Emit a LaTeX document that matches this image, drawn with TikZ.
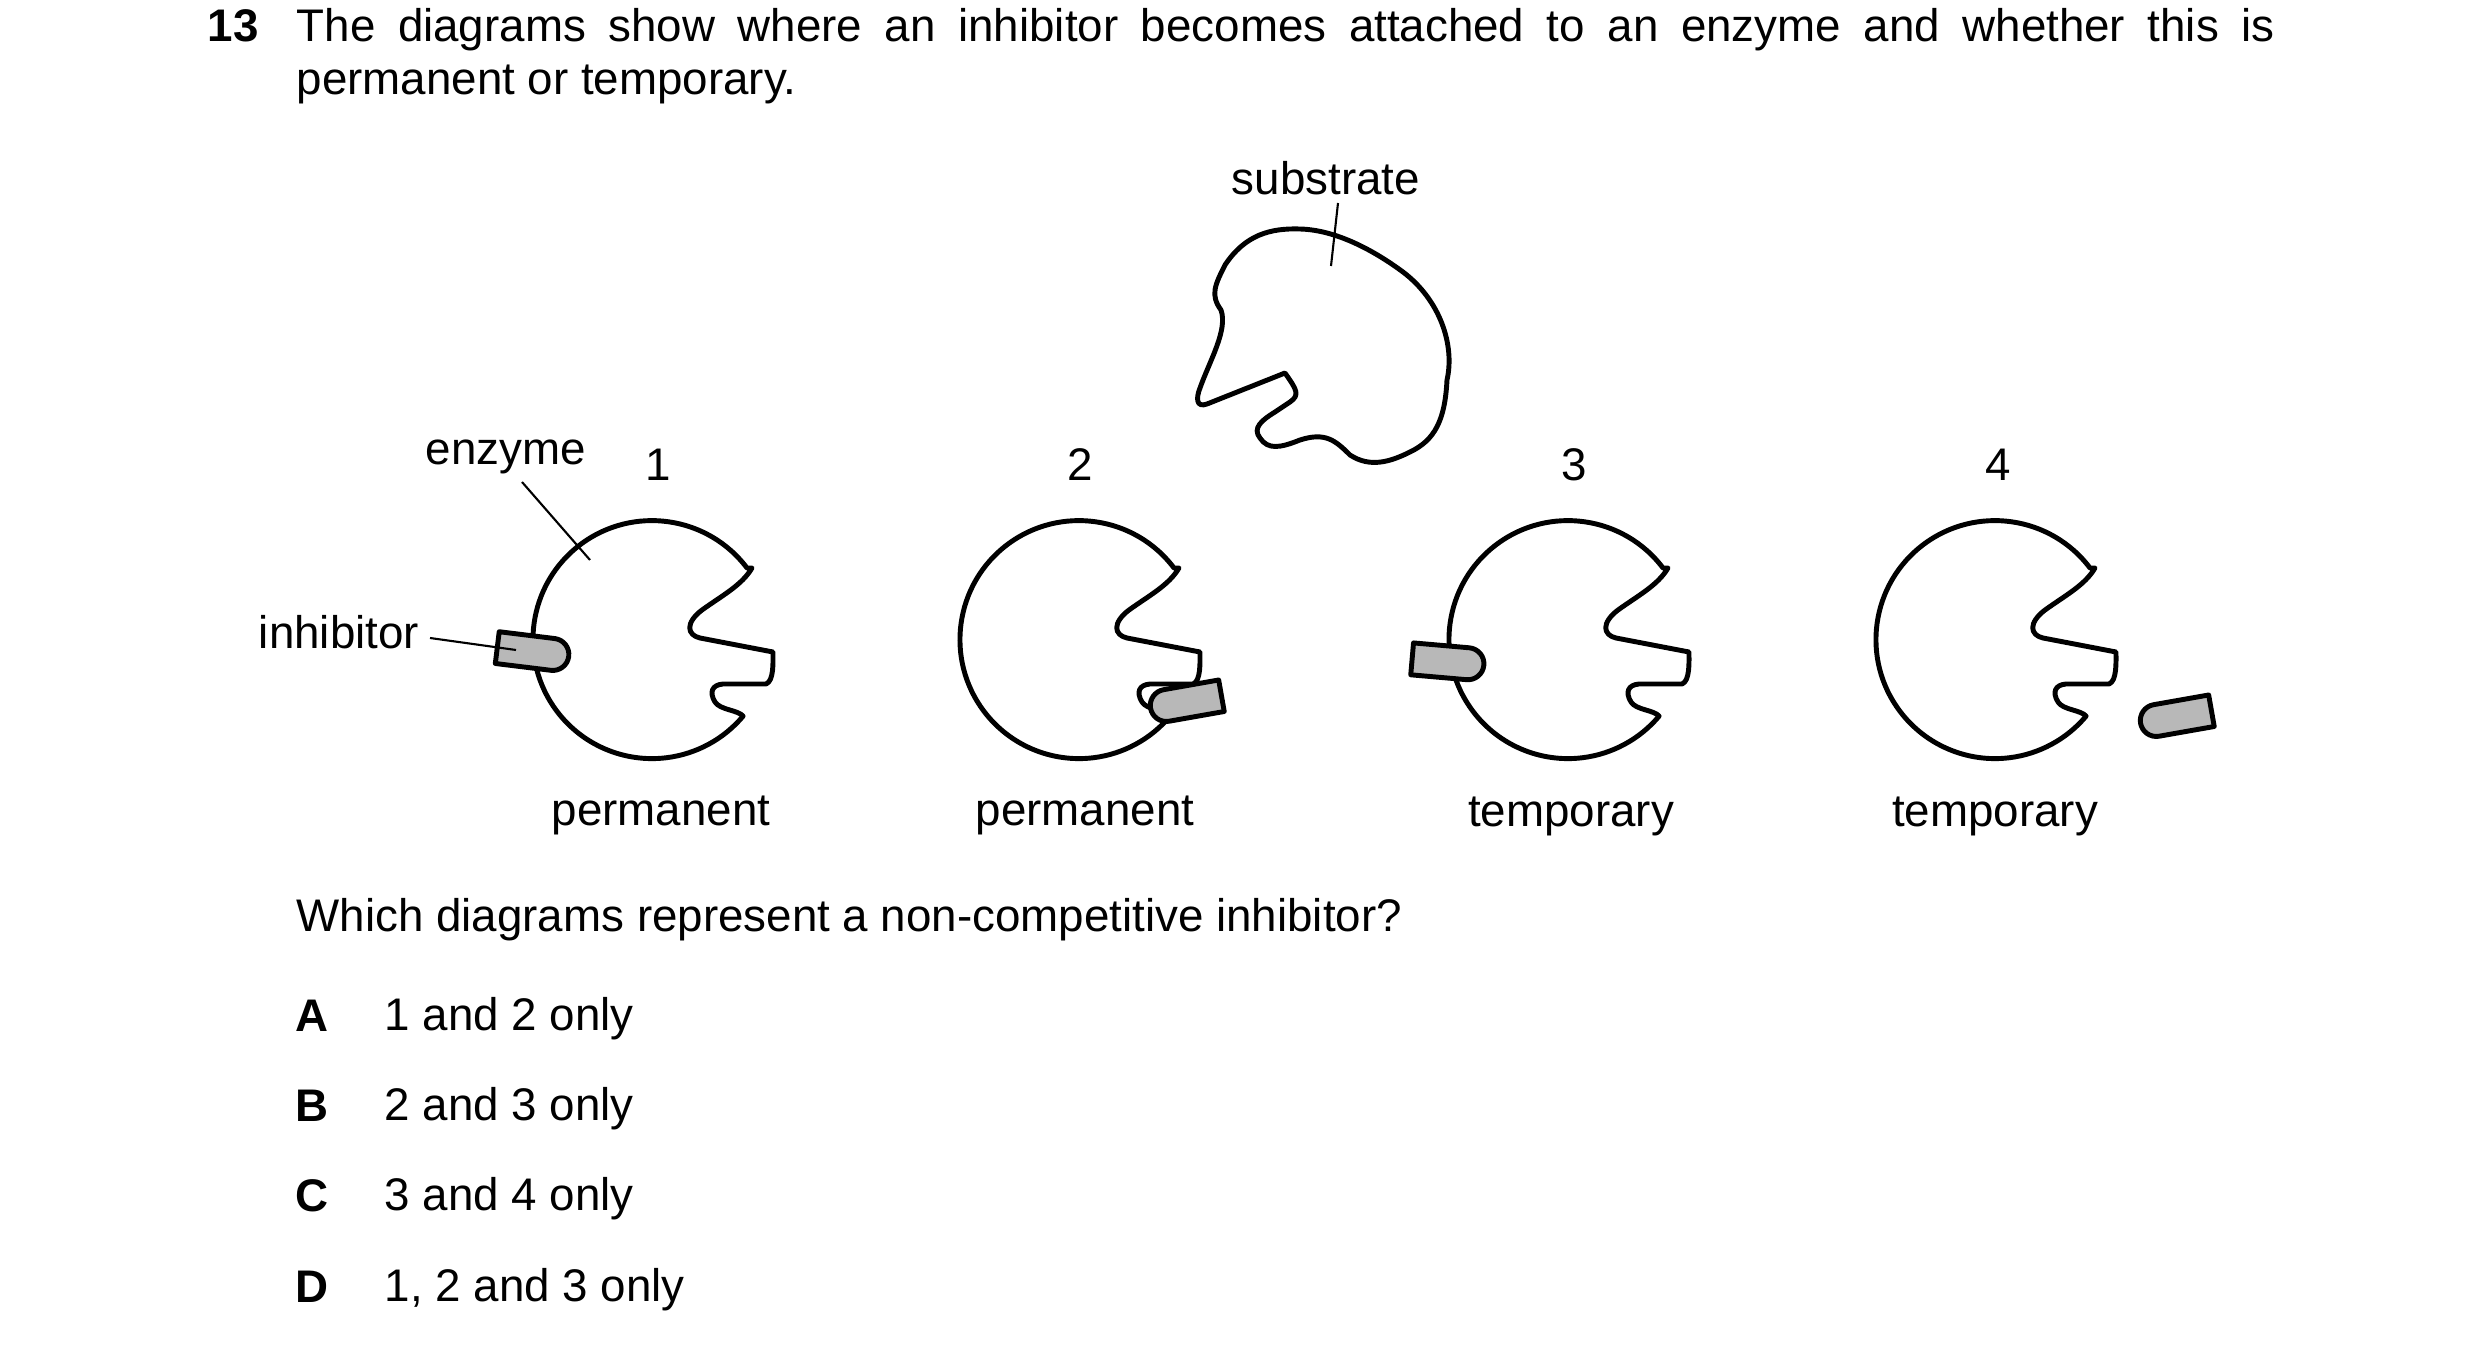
\documentclass[tikz,border=0pt]{standalone}
\usepackage{fontspec}
\setmainfont{Liberation Sans}
\begin{document}
\begin{tikzpicture}[x=0.01cm,y=-0.01cm,
  txt/.style={font=\fontsize{13pt}{15pt}\selectfont, inner sep=0pt},
  ol/.style={line width=1.4pt, line join=round},
  inh/.style={ol, fill=black!28},
  lead/.style={line width=0.6pt},
  pics/enzyme/.style={code={
    \draw[ol,fill=white] (95,-72) arc[start angle=-37, end angle=-320, radius=119]
      .. controls (86,70) and (68,70) .. (63,62) .. controls (57,52) and (60,45) .. (71,44)
      -- (114,44) .. controls (122,41) and (121,22) .. (121,12) -- (48,-2)
      .. controls (35,-5) and (33,-17) .. (50,-30) .. controls (71,-45) and (90,-55) .. (100,-72) -- cycle;}},
  pics/capR/.style={code={
    \draw[inh] (-36,-16) -- (20,-16) arc[start angle=-90, end angle=90, radius=16] -- (-36,16) -- cycle;}},
  pics/capL/.style={code={
    \draw[inh] (36,-16) -- (-20,-16) arc[start angle=270, end angle=90, radius=16] -- (36,16) -- cycle;}}
]
\useasboundingbox (0,0) rectangle (2480,1349);
\node[txt,font=\fontsize{13pt}{15pt}\selectfont\bfseries,anchor=base west] (num) at (207,42) {13};
\node[txt,anchor=base west,align=justify,text width=19.77cm] (q) at (296,42)
  {The diagrams show where an inhibitor becomes attached to an enzyme and whether this is\linebreak permanent or temporary.};
\draw[ol] (1285,373) -- (1207,404) .. controls (1196,408) and (1196,398) .. (1200,388)
  .. controls (1210,360) and (1228,330) .. (1221,310) .. controls (1210,295) and (1215,285) .. (1225,265)
  .. controls (1245,235) and (1270,228) .. (1300,229) .. controls (1340,230) and (1380,255) .. (1403,272)
  .. controls (1440,300) and (1455,345) .. (1447,380) .. controls (1445,420) and (1435,440) .. (1410,452)
  .. controls (1390,462) and (1370,468) .. (1350,455) .. controls (1335,440) and (1325,432) .. (1300,440)
  .. controls (1280,448) and (1268,450) .. (1260,438) .. controls (1252,428) and (1262,420) .. (1275,412)
  -- (1290,402) .. controls (1300,395) and (1297,390) .. (1285,373) -- cycle;
\node[txt] (sub) at (1326,178) {substrate};
\coordinate (s1) at (1338,203); \coordinate (s2) at (1331,266);
\draw[lead] (s1) -- (s2);
\pic at (652,640) {enzyme};
\pic at (1079,640) {enzyme};
\pic at (1568,640) {enzyme};
\pic at (1995,640) {enzyme};
\pic[rotate=-7] at (533,652) {capR};
\pic[rotate=10] at (1186,702) {capL};
\pic[rotate=-5] at (1448,662) {capR};
\pic[rotate=10] at (2176,717) {capL};
\node[txt] (enz) at (506,457) {enzyme};
\node[txt] (inh) at (339,632) {inhibitor};
\coordinate (e1) at (522,482); \coordinate (e2) at (590,560);
\coordinate (i1) at (430,638); \coordinate (i2) at (516,650);
\draw[lead] (e1) -- (e2);
\draw[lead] (i1) -- (i2);
\node[txt] (n1) at (658,465) {1};
\node[txt] (n2) at (1080,465) {2};
\node[txt] (n3) at (1574,465) {3};
\node[txt] (n4) at (1998,465) {4};
\node[txt] (p1) at (661,815) {permanent};
\node[txt] (p2) at (1085,815) {permanent};
\node[txt] (t3) at (1571,816) {temporary};
\node[txt] (t4) at (1995,816) {temporary};
\node[txt,anchor=west] (wq) at (296,920) {Which diagrams represent a non-competitive inhibitor?};
\node[txt,font=\fontsize{13pt}{15pt}\selectfont\bfseries] (A) at (312,1016) {A};
\node[txt,anchor=west] (a) at (384,1019) {1 and 2 only};
\node[txt,font=\fontsize{13pt}{15pt}\selectfont\bfseries] (B) at (312,1106) {B};
\node[txt,anchor=west] (b) at (384,1109) {2 and 3 only};
\node[txt,font=\fontsize{13pt}{15pt}\selectfont\bfseries] (C) at (312,1196) {C};
\node[txt,anchor=west] (c) at (384,1199) {3 and 4 only};
\node[txt,font=\fontsize{13pt}{15pt}\selectfont\bfseries] (D) at (312,1287) {D};
\node[txt,anchor=west] (d) at (384,1290) {1, 2 and 3 only};
\end{tikzpicture}
\end{document}
